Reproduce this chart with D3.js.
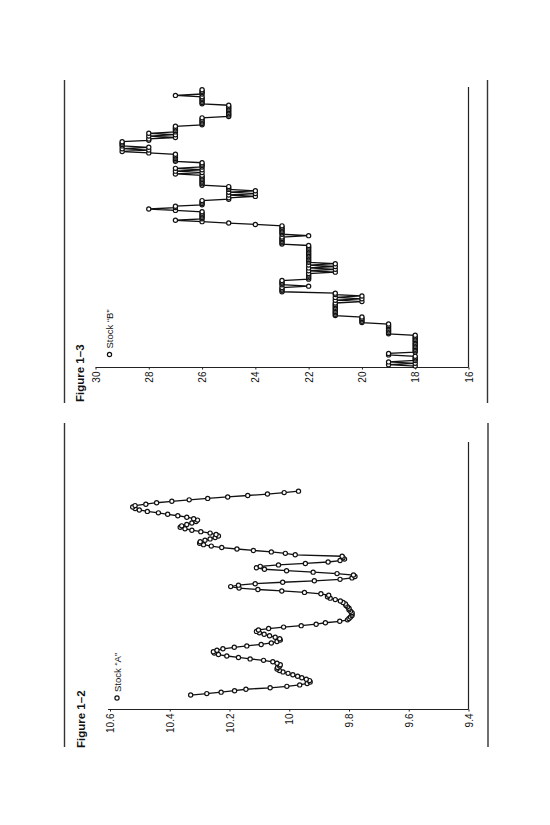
<!DOCTYPE html>
<html>
<head>
<meta charset="utf-8">
<script src="https://cdn.jsdelivr.net/npm/d3@7"></script>
<style>
  html, body { margin: 0; padding: 0; background: #fff; }
  svg { display: block; }
  text { font-family: "Liberation Sans", Arial, Helvetica, sans-serif; fill: #111; }
</style>
</head>
<body>
<svg id="page" width="550" height="825"></svg>
<script>
// Stock "A": closing prices, one value per trading day
const stockA = [
  10.33, 10.276, 10.228, 10.183, 10.145, 10.064, 10.008, 9.965, 9.94, 9.93,
  9.932, 9.943, 9.958, 9.972, 9.988, 10.004, 10.021, 10.033, 10.041, 10.039,
  10.032, 10.03, 10.041, 10.055, 10.086, 10.131, 10.17, 10.209, 10.237, 10.251,
  10.254, 10.242, 10.222, 10.184, 10.142, 10.094, 10.06, 10.041, 10.03, 10.032,
  10.047, 10.066, 10.084, 10.10, 10.11, 10.103, 10.069, 10.019, 9.96, 9.91,
  9.879, 9.831, 9.805, 9.80, 9.795, 9.79, 9.79, 9.79, 9.795, 9.80,
  9.80, 9.805, 9.81, 9.812, 9.82, 9.829, 9.846, 9.863, 9.872, 9.868,
  9.894, 9.949, 10.025, 10.105, 10.168, 10.196, 10.17, 10.114, 10.022, 9.916,
  9.83, 9.79, 9.78, 9.785, 9.84, 9.92, 10.009, 10.083, 10.11, 10.097,
  10.036, 9.946, 9.87, 9.83, 9.815, 9.82, 9.823, 9.98, 10.013, 10.06,
  10.12, 10.175, 10.226, 10.261, 10.287, 10.30, 10.298, 10.282, 10.265, 10.248,
  10.237, 10.245, 10.265, 10.296, 10.326, 10.349, 10.365, 10.36, 10.343, 10.326,
  10.312, 10.307, 10.32, 10.343, 10.373, 10.407, 10.438, 10.475, 10.502, 10.516,
  10.524, 10.516, 10.48, 10.444, 10.393, 10.335, 10.273, 10.206, 10.139, 10.073,
  10.017, 9.969
];

// Stock "B": closing prices, one value per trading day (whole-point moves)
const stockB = [
  18, 19, 18, 19, 18, 18, 18, 18, 19, 19, 18,
  18, 18, 18, 18, 18, 18, 18, 18, 18, 18, 18, 18,
  19, 19, 19, 19, 19, 19, 19, 19,
  20, 20, 20, 20, 20,
  21, 21, 21, 21, 21, 21, 21, 21, 21, 21,
  20, 21, 20, 21, 20, 21, 21,
  23, 23, 23, 23, 22, 23, 23, 23, 23, 22,
  22, 22, 22, 22,
  21, 22, 21, 22, 21, 22, 21, 22,
  22, 22, 22, 22, 22, 22, 22, 22, 22, 22, 22, 22,
  23, 23, 23, 23, 23, 23,
  22,
  23, 23, 23, 23, 23, 23, 23,
  24, 25, 26, 27,
  26, 26, 26, 26, 26, 26,
  27, 28, 27, 27,
  26, 26, 26, 26,
  25, 25, 24, 25, 24, 25, 24, 25, 25, 25,
  26, 26, 26, 26, 26, 26, 26, 26,
  27, 26, 27, 26, 27, 26, 26, 26, 26,
  27, 27, 27, 27, 27, 27,
  28, 29, 28, 29, 28, 29, 29, 29, 29,
  28, 28, 27, 28, 27, 28, 27, 27, 27, 27, 27,
  26, 26, 26, 26, 26, 26,
  25, 25, 25, 25, 25, 25, 25, 25, 25,
  26, 26, 26, 26, 26, 26,
  27,
  26, 26, 26, 26
];

const ticksA = [10.6, 10.4, 10.2, 10, 9.8, 9.6, 9.4];
const ticksB = [30, 28, 26, 24, 22, 20, 18, 16];

const titleA = "Figure 1\u20132";
const titleB = "Figure 1\u20133";
const legendA = "Stock \u201cA\u201d";
const legendB = "Stock \u201cB\u201d";

const svg = d3.select("#page");
svg.append("rect").attr("width", 550).attr("height", 825).attr("fill", "#fff");

// The page is printed sideways: value runs left->right (high to low),
// time runs bottom->top.
function panel(cfg) {
  const g = svg.append("g");

  // page rules framing the figure
  [cfg.ruleLeft, cfg.ruleRight].forEach(xr => {
    g.append("line")
      .attr("x1", xr).attr("x2", xr)
      .attr("y1", cfg.ruleTop).attr("y2", cfg.ruleBottom)
      .attr("stroke", "#333").attr("stroke-width", 1.4);
  });

  const x = d3.scaleLinear().domain(cfg.valueDomain).range(cfg.valueRange);
  const y = d3.scaleLinear().domain(cfg.timeDomain).range(cfg.timeRange);

  // time axis line (no labels)
  g.append("line")
    .attr("x1", cfg.valueRange[0]).attr("x2", cfg.valueRange[0])
    .attr("y1", cfg.timeRange[0]).attr("y2", cfg.timeRange[1])
    .attr("stroke", "#222").attr("stroke-width", 1.2);

  // value axis
  const axis = d3.axisBottom(x)
    .tickValues(cfg.ticks)
    .tickFormat(d => String(d))
    .tickSizeInner(2)
    .tickSizeOuter(0);
  const ag = g.append("g")
    .attr("transform", `translate(0,${cfg.timeRange[0]})`)
    .call(axis);
  ag.select(".domain")
    .attr("d", `M${cfg.axisStart},0H${cfg.valueRange[0]}`)
    .attr("stroke", "#222").attr("stroke-width", 1.2);
  ag.selectAll(".tick line").attr("stroke", "#222");
  ag.selectAll(".tick text")
    .attr("transform", "rotate(-90)")
    .attr("x", -4).attr("y", 0).attr("dy", "0.35em")
    .style("text-anchor", "end")
    .style("font-size", "10px")
    .style("font-family", '"Liberation Sans", Arial, sans-serif')
    .attr("fill", "#111");

  // series line and markers
  const pts = cfg.values.map((v, i) => ({ i, v }));
  const line = d3.line().x(d => x(d.v)).y(d => y(d.i));
  g.append("path")
    .datum(pts)
    .attr("d", line)
    .attr("fill", "none")
    .attr("stroke", "#111")
    .attr("stroke-width", 1.3);
  g.selectAll("circle.pt")
    .data(pts)
    .join("circle")
    .attr("class", "pt")
    .attr("cx", d => x(d.v))
    .attr("cy", d => y(d.i))
    .attr("r", 2.1)
    .attr("fill", "#fff")
    .attr("stroke", "#111")
    .attr("stroke-width", 1.2);

  // title
  g.append("text")
    .attr("transform", `translate(${cfg.titleX},${cfg.titleY}) rotate(-90)`)
    .style("font-size", "11.5px")
    .style("font-weight", "bold")
    .text(cfg.title);

  // legend
  g.append("circle")
    .attr("cx", cfg.legendX).attr("cy", cfg.legendY)
    .attr("r", 2.1).attr("fill", "#fff")
    .attr("stroke", "#111").attr("stroke-width", 1.2);
  g.append("text")
    .attr("transform", `translate(${cfg.legendX + 3.5},${cfg.legendY - 6}) rotate(-90)`)
    .style("font-size", "9.5px")
    .text(cfg.legend);
}

panel({
  values: stockA, ticks: ticksA, title: titleA, legend: legendA,
  valueDomain: [9.4, 10.6], valueRange: [468.5, 110],
  timeDomain: [-10, 175], timeRange: [709.5, 442],
  axisStart: 108,
  ruleLeft: 64.5, ruleRight: 488, ruleTop: 423, ruleBottom: 747,
  titleX: 85, titleY: 748,
  legendX: 117, legendY: 698
});

panel({
  values: stockB, ticks: ticksB, title: titleB, legend: legendB,
  valueDomain: [16, 30], valueRange: [468.5, 95.5],
  timeDomain: [-1, 199], timeRange: [367.5, 87],
  axisStart: 95.5,
  ruleLeft: 64.5, ruleRight: 487.5, ruleTop: 80, ruleBottom: 403,
  titleX: 83.5, titleY: 402,
  legendX: 109.5, legendY: 354.5
});
</script>
</body>
</html>
